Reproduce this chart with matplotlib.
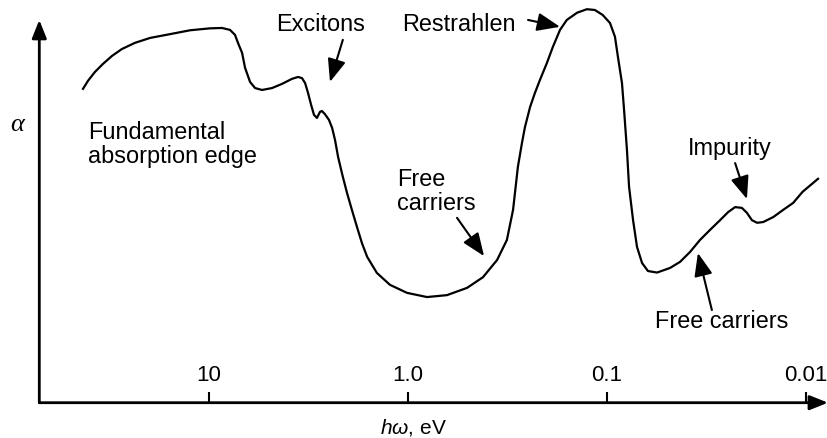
import matplotlib
matplotlib.use("Agg")
import matplotlib.pyplot as plt

plt.rcParams['font.family'] = ['Liberation Sans', 'DejaVu Sans']
plt.rcParams['mathtext.fontset'] = 'custom'
plt.rcParams['mathtext.rm'] = 'Liberation Sans'
plt.rcParams['mathtext.it'] = 'Liberation Sans:italic'

# photon energy (eV) and absorption coefficient (arb. units) along the spectrum
energy_ev = [42.8, 40.4, 37.3, 34.0, 30.6, 27.3, 23.5, 19.7, 15.6, 12.4,
             9.85, 8.58, 7.82, 7.38, 7.13, 6.80, 6.57, 6.20, 5.85, 5.40,
             4.81, 4.28, 3.82, 3.56, 3.40, 3.28, 3.17, 3.06, 2.96, 2.86,
             2.76, 2.70, 2.61, 2.49, 2.40, 2.32, 2.24, 2.12, 2.02, 1.91,
             1.80, 1.70, 1.60, 1.43, 1.23, 1.01, 0.801, 0.636, 0.504, 0.419,
             0.356, 0.318, 0.296, 0.280, 0.267, 0.258, 0.243, 0.230, 0.217, 0.200,
             0.187, 0.172, 0.159, 0.141, 0.126, 0.115, 0.105, 0.0965, 0.0911, 0.0880,
             0.0840, 0.0820, 0.0793, 0.0774, 0.0739, 0.0706, 0.0666, 0.0622, 0.0560, 0.0482,
             0.0429, 0.0382, 0.0341, 0.0304, 0.0270, 0.0246, 0.0227, 0.0210, 0.0198, 0.0187,
             0.0176, 0.0164, 0.0146, 0.0130, 0.0116, 0.0104, 0.0087]
alpha = [8.20, 8.41, 8.64, 8.85, 9.06, 9.24, 9.40, 9.53, 9.63, 9.73,
         9.78, 9.79, 9.74, 9.61, 9.40, 9.14, 8.75, 8.38, 8.22, 8.17,
         8.22, 8.33, 8.46, 8.51, 8.48, 8.35, 8.09, 7.78, 7.52, 7.44,
         7.60, 7.62, 7.54, 7.39, 7.18, 6.86, 6.42, 5.90, 5.48, 5.04,
         4.59, 4.17, 3.81, 3.39, 3.08, 2.87, 2.76, 2.81, 3.00, 3.28,
         3.73, 4.25, 5.04, 6.16, 6.79, 7.20, 7.73, 8.09, 8.43, 8.88,
         9.29, 9.74, 10.00, 10.19, 10.28, 10.26, 10.13, 9.92, 9.56, 9.03,
         8.35, 7.65, 6.60, 5.64, 4.77, 4.07, 3.65, 3.44, 3.40, 3.52,
         3.68, 3.94, 4.25, 4.51, 4.77, 4.98, 5.11, 5.09, 4.96, 4.77,
         4.70, 4.72, 4.85, 5.04, 5.22, 5.51, 5.85]

tick_energy = [10, 1.0, 0.1, 0.01]
tick_labels = ["10", "1.0", "0.1", "0.01"]

# feature labels (baseline of last line) and their pointer arrows
feature_text = ["Excitons", "Restrahlen", "Free\ncarriers", "Impurity", "Free carriers"]
text_e = [2.73, 1.07, 1.13, 0.0241, 0.0266]
text_a = [9.71, 9.71, 5.03, 6.47, 1.95]
text_ha = ["center", "left", "left", "center", "center"]
tail_e = [2.12, 0.249, 0.566, 0.0227, 0.0297]
tail_a = [9.48, 10.0, 4.83, 6.26, 2.42]
tip_e = [2.46, 0.172, 0.414, 0.0198, 0.0349]
tip_a = [8.38, 9.82, 3.83, 5.32, 3.91]

fig = plt.figure(figsize=(8.28, 4.38), dpi=100)
ax = fig.add_axes([39.3 / 828, 35.3 / 438, 788.7 / 828, 397.7 / 438])
ax.set_xscale('log')
ax.set_xlim(70.96, 0.007753)
ax.set_ylim(0, 10.39)
for s in ax.spines.values():
    s.set_visible(False)

ax.plot(energy_ev, alpha, color='black', lw=1.6, clip_on=False,
        solid_joinstyle='round')

# axes with arrow heads
axis_arrow = dict(arrowstyle='-|>,head_length=0.55,head_width=0.22',
                  lw=2, color='black', mutation_scale=20, shrinkA=0, shrinkB=0)
ax.annotate('', xy=(1, 0), xytext=(0, 0), xycoords='axes fraction',
            arrowprops=axis_arrow)
ax.annotate('', xy=(0, 10.0), xytext=(0, 0), xycoords=('axes fraction', 'data'),
            arrowprops=axis_arrow)

ax.set_yticks([])
ax.set_xticks(tick_energy)
ax.set_xticklabels(tick_labels)
ax.xaxis.set_minor_locator(matplotlib.ticker.NullLocator())
ax.tick_params(axis='x', direction='in', length=8, width=1.5, pad=-27,
               labelsize=16)

for i in range(len(feature_text)):
    ax.text(text_e[i], text_a[i], feature_text[i], ha=text_ha[i],
            va='baseline', fontsize=16.9, linespacing=1.05)
    ax.annotate('', xy=(tip_e[i], tip_a[i]), xytext=(tail_e[i], tail_a[i]),
                arrowprops=dict(arrowstyle='-|>,head_length=0.7,head_width=0.28',
                                lw=1.5, color='black', mutation_scale=20,
                                shrinkA=0, shrinkB=0))

ax.text(40.4, 6.26, "Fundamental\nabsorption edge", ha='left', va='baseline',
        fontsize=16.9, linespacing=1.05)

fig.text(17 / 828, 1 - 125 / 438, "α", family='Liberation Serif', style='italic',
         fontsize=19, ha='center', va='center')
fig.text(413 / 828, 1 - 427 / 438, r"$h\omega$, eV", fontsize=15,
         ha='center', va='center')

fig.savefig("out.png", dpi=100)
